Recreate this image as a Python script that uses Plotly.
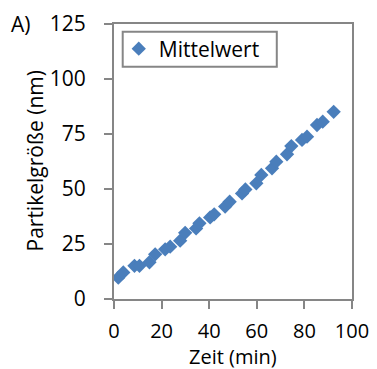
import plotly.graph_objects as go

zeit = [1.8, 3.9, 8.6, 10.7, 14.9, 17.3, 21.5, 23.6, 27.8, 29.9, 34.5, 35.9, 40.4, 42.1,
        46.7, 48.6, 53.8, 55.2, 59.8, 61.9, 66.4, 68.2, 72.7, 74.5, 79.0, 81.1, 85.3, 87.7, 92.3]
groesse = [9.7, 12.1, 15.1, 15.1, 16.7, 20.3, 22.6, 23.8, 26.5, 30.1, 32.1, 34.4, 37.1, 38.5,
           42.0, 44.2, 48.0, 49.8, 52.6, 56.4, 59.4, 62.4, 65.8, 69.5, 72.3, 73.8, 79.1, 80.6, 85.1]
x_ticks = [0, 20, 40, 60, 80, 100]
y_ticks = [0, 25, 50, 75, 100, 125]

FONT = "Open Sans"
FS = 21
GRAY = "#868686"

fig = go.Figure()
fig.add_trace(go.Scatter(
    x=zeit, y=groesse, mode="markers", name="Mittelwert",
    marker=dict(symbol="diamond", size=11, color="#4a7ebb"),
))

axis_common = dict(ticks="outside", ticklen=8, tickwidth=2, tickcolor=GRAY,
                   showline=True, linecolor=GRAY, linewidth=2, mirror=True,
                   showgrid=False, zeroline=False, automargin=False)

fig.update_layout(
    width=377, height=369,
    margin=dict(l=114, r=25, t=24, b=70),
    paper_bgcolor="white", plot_bgcolor="white",
    font=dict(family=FONT, size=FS, color="black"),
    showlegend=True,
    legend=dict(x=0.02, y=0.909, xanchor="left", yanchor="middle",
                borderwidth=0, bgcolor="rgba(0,0,0,0)",
                font=dict(family=FONT, size=FS), itemwidth=30),
    xaxis=dict(range=[0, 100], tickvals=x_ticks, ticklabelstandoff=5,
               tickfont=dict(size=20), **axis_common),
    yaxis=dict(range=[0, 125], tickvals=y_ticks, ticklabelstandoff=14, **axis_common),
)
# legend frame
fig.add_shape(type="rect", xref="paper", yref="paper", x0=0.0366, x1=0.684,
              y0=0.845, y1=0.972, line=dict(color=GRAY, width=2), fillcolor="rgba(0,0,0,0)")
# axis titles
fig.add_annotation(text="Zeit (min)", xref="paper", yref="paper", x=0.5, y=0,
                   yshift=-57, xanchor="center", yanchor="middle", showarrow=False,
                   borderpad=0, font=dict(family=FONT, size=20))
fig.add_annotation(text="Partikelgröße (nm)", xref="paper", yref="paper", x=0, y=0.5,
                   xshift=-80, xanchor="center", yanchor="middle", textangle=-90,
                   showarrow=False, font=dict(family=FONT, size=FS))
fig.add_annotation(text="A)", xref="paper", yref="paper", x=0, y=1, xshift=-105,
                   xanchor="left", yanchor="middle", showarrow=False,
                   font=dict(family=FONT, size=FS))

fig.write_html("out.html", config={"displayModeBar": False},
               post_script="document.body.style.margin='0';document.body.style.overflow='hidden';")
